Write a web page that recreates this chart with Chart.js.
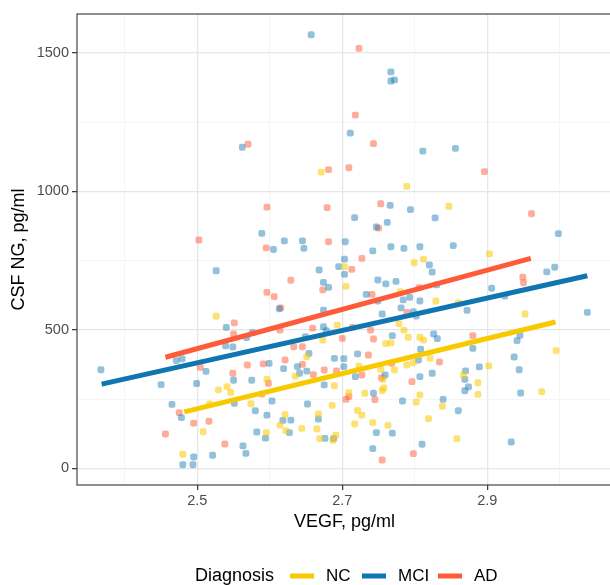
<!DOCTYPE html>
<html>
<head>
<meta charset="utf-8">
<script src="https://cdn.jsdelivr.net/npm/chart.js@4/dist/chart.umd.min.js"></script>
<style>
  html, body { margin: 0; padding: 0; background: #fff; overflow: hidden; }
  #wrap { width: 616px; height: 585px; }
</style>
</head>
<body>
<div id="wrap"><canvas id="scatter" width="616" height="585"></canvas></div>
<script>
// groups, in legend order
const groups = ["NC", "MCI", "AD"];
const lineColors = ["#F9C900", "#0F76B1", "#FF5B38"];
const pointColors = ["rgba(249,201,0,0.55)", "rgba(15,118,177,0.45)", "rgba(255,91,56,0.5)"];

// VEGF (x) and CSF NG (y)
const nc_x = [2.671,2.789,2.847,2.903,2.799,2.812,2.703,2.705,2.952,2.780,2.829,2.860,2.693,2.778,2.785,2.791,2.760,2.767,2.807,2.812,2.995,2.975,2.902,2.867,2.887,2.887,2.858,2.838,2.819,2.807,2.802,2.821,2.798,2.789,2.772,2.753,2.756,2.757,2.755,2.731,2.721,2.727,2.717,2.742,2.763,2.709,2.723,2.689,2.686,2.667,2.665,2.669,2.687,2.691,2.644,2.651,2.526,2.529,2.541,2.546,2.596,2.574,2.517,2.508,2.621,2.614,2.622,2.595,2.480,2.673,2.635];
const nc_y = [1069,1018,946,774,742,755,728,657,557,638,604,598,517,522,499,473,450,453,473,463,425,277,370,337,309,267,107,224,179,265,239,397,381,373,355,357,321,290,280,271,209,192,160,165,155,273,369,298,227,196,142,107,101,120,144,403,549,283,295,274,322,233,232,132,194,156,136,129,51,463,333];

const mci_x = [2.657,2.562,2.589,2.620,2.645,2.605,2.647,2.767,2.767,2.772,2.711,2.811,2.856,2.766,2.794,2.717,2.762,2.747,2.828,2.998,2.704,2.742,2.767,2.785,2.807,2.853,2.703,2.820,2.824,2.695,2.703,2.668,2.982,2.993,3.038,2.674,2.681,2.749,2.760,2.774,2.830,2.906,2.924,2.733,2.749,2.784,2.793,2.807,2.781,2.755,2.802,2.798,2.872,2.674,2.674,2.678,2.769,2.826,2.831,2.880,2.941,2.945,2.937,2.944,2.946,2.933,2.889,2.870,2.869,2.874,2.869,2.860,2.839,2.824,2.807,2.805,2.808,2.759,2.743,2.783,2.747,2.769,2.742,2.810,2.718,2.721,2.702,2.702,2.689,2.675,2.652,2.667,2.676,2.688,2.651,2.654,2.649,2.526,2.613,2.540,2.576,2.568,2.539,2.549,2.599,2.619,2.512,2.471,2.479,2.367,2.450,2.499,2.550,2.575,2.551,2.603,2.580,2.596,2.478,2.618,2.629,2.627,2.582,2.594,2.563,2.567,2.521,2.495,2.480,2.494,2.465,2.638,2.641];
const mci_y = [1565,1159,848,821,821,790,794,1431,1398,1402,1210,1145,1155,949,934,905,888,871,904,847,818,785,800,794,800,804,755,734,708,728,700,716,709,726,563,671,653,680,666,675,662,650,622,628,604,608,617,604,579,557,550,565,570,571,511,497,479,485,468,433,461,480,402,356,272,95,366,352,321,294,280,208,249,343,331,391,430,337,271,243,129,127,71,87,331,413,396,367,397,301,232,178,108,107,351,415,475,713,576,509,490,472,442,438,379,360,350,389,395,356,302,306,318,318,235,243,208,192,183,173,174,129,131,109,81,54,47,41,13,13,231,367,343];

const ad_x = [2.570,2.596,2.502,2.595,2.723,2.718,2.743,2.681,2.709,2.896,2.679,2.753,2.961,2.750,2.681,2.727,2.713,2.949,2.950,2.673,2.806,2.741,2.789,2.659,2.714,2.700,2.739,2.743,2.880,2.834,2.796,2.768,2.754,2.745,2.755,2.798,2.709,2.705,2.727,2.692,2.675,2.660,2.645,2.645,2.629,2.596,2.606,2.615,2.551,2.550,2.614,2.633,2.569,2.591,2.621,2.504,2.549,2.589,2.598,2.475,2.495,2.516,2.456,2.538,2.736];
const ad_y = [1170,943,824,796,1516,1275,1172,1078,1085,1071,941,955,919,867,818,758,718,690,670,644,652,628,563,506,509,469,499,467,479,384,313,379,327,248,30,53,259,249,337,352,355,338,439,375,679,635,620,579,525,485,499,439,373,377,391,365,343,268,307,201,163,170,124,88,409];

// fitted lines (end points)
const fit_x = [[2.482, 2.994], [2.368, 3.038], [2.456, 2.960]];
const fit_y = [[204, 528], [304, 695], [401, 758]];

const xTicks = [2.4, 2.5, 2.6, 2.7, 2.8, 2.9, 3.0];
const yTicks = [0, 250, 500, 750, 1000, 1250, 1500];

const xs = [nc_x, mci_x, ad_x];
const ys = [nc_y, mci_y, ad_y];

const isMajorX = (v) => Math.round(v * 10) % 2 === 1;
const isMajorY = (v) => v % 500 === 0;

const datasets = [];
groups.forEach((g, i) => {
  datasets.push({
    type: "line",
    label: g + " fit",
    data: fit_x[i].map((x, k) => ({ x: x, y: fit_y[i][k] })),
    borderColor: lineColors[i],
    borderWidth: 5,
    pointRadius: 0,
    fill: false,
    order: 0 + (2 - i) * 0.1
  });
});
groups.forEach((g, i) => {
  datasets.push({
    label: g,
    data: xs[i].map((x, k) => ({ x: x, y: ys[i][k] })),
    backgroundColor: pointColors[i],
    borderWidth: 0,
    pointStyle: "rectRounded",
    pointRadius: 4,
    order: 1
  });
});

const panelAndLegend = {
  id: "panelAndLegend",
  afterDraw(chart) {
    const c = chart.ctx;
    const a = chart.chartArea;
    c.save();
    c.strokeStyle = "#444";
    c.lineWidth = 1.2;
    c.strokeRect(a.left, a.top, a.right - a.left, a.bottom - a.top);

    // legend
    const y = 576;
    c.font = '18px "Liberation Sans", Arial, sans-serif';
    c.textBaseline = "middle";
    c.fillStyle = "#000";
    c.textAlign = "left";
    c.fillText("Diagnosis", 195, y);
    const sw = [290, 362, 438];
    groups.forEach((g, i) => {
      c.strokeStyle = lineColors[i];
      c.lineWidth = 5;
      c.beginPath();
      c.moveTo(sw[i], y);
      c.lineTo(sw[i] + 24, y);
      c.stroke();
      c.fillStyle = "#000";
      c.font = '17px "Liberation Sans", Arial, sans-serif';
      c.fillText(g, sw[i] + 36, y);
    });
    c.restore();
  }
};

const scatterConfig = {
  type: "scatter",
  data: { datasets: datasets },
  options: {
    responsive: false,
    animation: false,
    events: [],
    layout: { padding: { top: 14, right: 4, left: 0, bottom: 0 } },
    plugins: { legend: { display: false }, tooltip: { enabled: false } },
    scales: {
      x: {
        type: "linear",
        min: 2.334,
        max: 3.072,
        afterBuildTicks: (s) => { s.ticks = xTicks.map((v) => ({ value: v })); },
        afterFit: (s) => { s.height = 100; },
        border: { display: false },
        grid: {
          color: (ctx) => isMajorX(ctx.tick.value) ? "#E6E6E6" : "#F1F1F1",
          lineWidth: (ctx) => isMajorX(ctx.tick.value) ? 1.3 : 0.7,
          tickColor: (ctx) => isMajorX(ctx.tick.value) ? "#333" : "rgba(0,0,0,0)",
          tickWidth: 1.2,
          tickLength: 5
        },
        ticks: {
          autoSkip: false,
          maxRotation: 0,
          padding: 2,
          color: "#4D4D4D",
          font: { family: '"Liberation Sans", Arial, sans-serif', size: 14.5 },
          callback: (v) => isMajorX(v) ? v.toFixed(1) : ""
        },
        title: {
          display: true,
          text: "VEGF, pg/ml",
          color: "#000",
          font: { family: '"Liberation Sans", Arial, sans-serif', size: 18 },
          padding: { top: 0, bottom: 52 }
        }
      },
      y: {
        type: "linear",
        min: -60.2,
        max: 1640,
        afterBuildTicks: (s) => { s.ticks = yTicks.map((v) => ({ value: v })); },
        afterFit: (s) => { s.width = 77; },
        border: { display: false },
        grid: {
          color: (ctx) => isMajorY(ctx.tick.value) ? "#E6E6E6" : "#F1F1F1",
          lineWidth: (ctx) => isMajorY(ctx.tick.value) ? 1.3 : 0.7,
          tickColor: (ctx) => isMajorY(ctx.tick.value) ? "#333" : "rgba(0,0,0,0)",
          tickWidth: 1.2,
          tickLength: 5
        },
        ticks: {
          autoSkip: false,
          padding: 3,
          color: "#4D4D4D",
          font: { family: '"Liberation Sans", Arial, sans-serif', size: 14.5 },
          callback: (v) => isMajorY(v) ? String(v) : ""
        },
        title: {
          display: true,
          text: "CSF NG, pg/ml",
          color: "#000",
          font: { family: '"Liberation Sans", Arial, sans-serif', size: 18 },
          padding: { top: 8, bottom: 0 }
        }
      }
    }
  },
  plugins: [panelAndLegend]
};

const scatterCtx = document.getElementById("scatter");
window.myScatter = new Chart(scatterCtx, scatterConfig);
</script>
</body>
</html>
